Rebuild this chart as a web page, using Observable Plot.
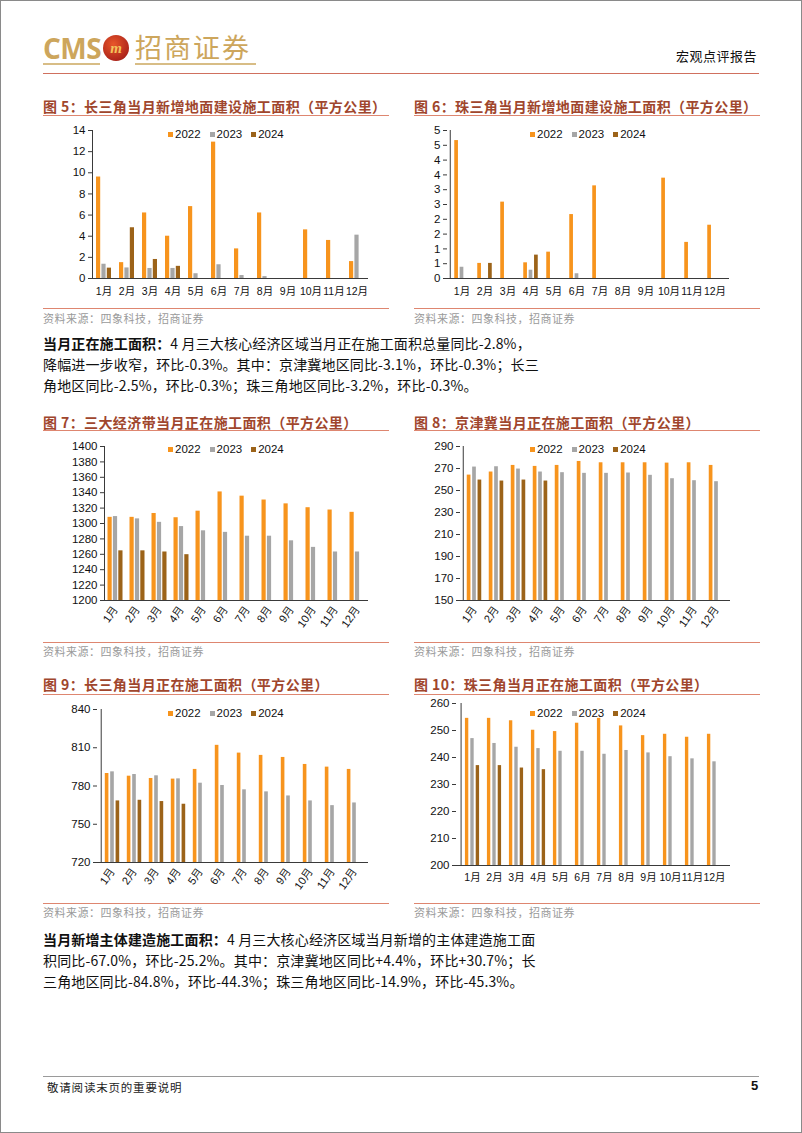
<!DOCTYPE html>
<html><head><meta charset="utf-8">
<script src="https://cdn.jsdelivr.net/npm/d3@7"></script>
<script src="https://cdn.jsdelivr.net/npm/@observablehq/plot@0.6"></script>
<style>
body{margin:0;background:#fff;}
#page{position:relative;width:802px;height:1133px;overflow:hidden;font-family:"Noto Sans CJK SC",sans-serif;box-sizing:border-box;border:1px solid #8a8a8a;}
.abs{position:absolute;}
.ftitle{position:absolute;font-size:14px;line-height:20px;font-weight:bold;color:#A0462D;white-space:nowrap;letter-spacing:0.4px;}
.rule{position:absolute;height:1px;background:#DE8670;}
.src{position:absolute;font-size:11px;line-height:16px;color:#9a9a9a;white-space:nowrap;letter-spacing:0.5px;}
.para{position:absolute;left:42px;font-size:14px;line-height:20px;color:#111;white-space:nowrap;letter-spacing:0.15px;}
.para b{font-weight:bold;}
.legend{position:absolute;display:flex;align-items:center;font-family:"Liberation Sans",Arial,sans-serif;font-size:11.5px;line-height:14px;color:#111;}
.legend span.sw{display:inline-block;width:5px;height:5px;margin-right:2px;}
.legend span.it{display:inline-flex;align-items:center;margin-right:9px;}
.chart{position:absolute;}
</style>
</head><body>
<div id="page"></div>
<script>
// ---------------- data ----------------
const months = ["1月","2月","3月","4月","5月","6月","7月","8月","9月","10月","11月","12月"];
const years = ["2022","2023","2024"];
const colors = ["#F7941D","#A6A6A6","#9C6319"];

// 图5 长三角当月新增地面建设施工面积
const yrdNew2022 = [9.6, 1.5, 6.2, 4.0, 6.8, 12.9, 2.8, 6.2, null, 4.6, 3.6, 1.6];
const yrdNew2023 = [1.35, 1.0, 0.95, 0.95, 0.45, 1.3, 0.28, 0.18, null, null, null, 4.1];
const yrdNew2024 = [0.98, 4.8, 1.8, 1.15, null, null, null, null, null, null, null, null];
const yrdNewTicks = [0, 2, 4, 6, 8, 10, 12, 14];

// 图6 珠三角当月新增地面建设施工面积
const prdNew2022 = [4.66, 0.51, 2.58, 0.53, 0.89, 2.16, 3.13, null, null, 3.39, 1.22, 1.80];
const prdNew2023 = [0.38, null, null, 0.28, null, 0.16, null, null, null, null, null, null];
const prdNew2024 = [null, 0.51, null, 0.79, null, null, null, null, null, null, null, null];
const prdNewTicks = [0, 0.5, 1, 1.5, 2, 2.5, 3, 3.5, 4, 4.5, 5];
const prdNewTickLabels = ["0","1","1","2","2","3","3","4","4","5","5"];

// 图7 三大经济带当月正在施工面积
const allCur2022 = [1308, 1308, 1313, 1307.5, 1316, 1341, 1335.5, 1330.5, 1325.5, 1320.5, 1317.5, 1314.5];
const allCur2023 = [1309, 1306, 1301.5, 1296, 1290.5, 1288.5, 1283.5, 1283.5, 1277.5, 1269, 1263, 1263];
const allCur2024 = [1264.5, 1264.5, 1263, 1259.5, null, null, null, null, null, null, null, null];
const allCurTicks = [1200, 1220, 1240, 1260, 1280, 1300, 1320, 1340, 1360, 1380, 1400];

// 图8 京津冀当月正在施工面积
const jjjCur2022 = [264, 266.8, 272.8, 271.9, 272.8, 276.4, 275.2, 275.2, 275.2, 274.9, 275.2, 272.8];
const jjjCur2023 = [271.3, 271.6, 269.5, 266.8, 266.2, 265.6, 265.6, 265.9, 263.8, 260.7, 258.9, 258];
const jjjCur2024 = [259.5, 258.6, 259.5, 258.6, null, null, null, null, null, null, null, null];
const jjjCurTicks = [150, 170, 190, 210, 230, 250, 270, 290];

// 图9 长三角当月正在施工面积
const yrdCur2022 = [789.8, 787.7, 785.9, 785.4, 793, 811.9, 805.8, 804, 802.4, 796.9, 794.8, 793];
const yrdCur2023 = [791.1, 789, 788, 785.6, 782.2, 780.4, 777, 775.4, 772.2, 768.3, 764.6, 766.7];
const yrdCur2024 = [768.3, 768.8, 767.8, 765.7, null, null, null, null, null, null, null, null];
const yrdCurTicks = [720, 750, 780, 810, 840];

// 图10 珠三角当月正在施工面积
const prdCur2022 = [254.5, 254.5, 253.6, 250.1, 249.6, 252.7, 254.5, 251.7, 248.1, 248.6, 247.5, 248.6];
const prdCur2023 = [247, 245.2, 243.8, 243.3, 242.3, 242.3, 241.2, 242.6, 241.7, 240.3, 239.5, 238.4];
const prdCur2024 = [237, 237, 236.1, 235.5, null, null, null, null, null, null, null, null];
const prdCurTicks = [200, 210, 220, 230, 240, 250, 260];

// ---------------- layout helpers ----------------
const page = document.getElementById("page");
function add(html){ page.insertAdjacentHTML("beforeend", html); }
const axisColor = "#3a3a3a";

function makeChart(o){
  const series = o.series;
  const rows = [];
  series.forEach((vals, i) => vals.forEach((v, j) => {
    if (v != null && v > 0) rows.push({month: months[j], year: years[i], value: v, s: i});
  }));
  const bw = (o.width - o.mL - o.mR) / months.length;
  const barW = o.barW ?? 4.2, gap = o.gap ?? 1.2;
  const off = (bw - (3 * barW + 2 * gap)) / 2;
  const y0 = o.yTicks[0], y1 = o.yTicks[o.yTicks.length - 1];
  const marks = [];
  years.forEach((yr, i) => {
    const il = off + i * (barW + gap);
    marks.push(Plot.barY(rows.filter(d => d.s === i), {
      x: "month", y1: y0, y2: "value", fill: colors[i],
      insetLeft: il, insetRight: bw - il - barW
    }));
  });
  marks.push(Plot.ruleY([y0], {stroke: axisColor, strokeWidth: 1}));
  marks.push(Plot.ruleX([months[0]], {x: d => d, dx: -bw / 2, stroke: axisColor, strokeWidth: 1}));
  const fmt = o.yLabels ? (d => o.yLabels[o.yTicks.indexOf(d)]) : (d => String(d));
  marks.push(Plot.axisY({ticks: o.yTicks, tickFormat: fmt, tickSize: 4, tickPadding: 3, label: null, stroke: axisColor, fontSize: 11.5}));
  marks.push(Plot.axisX({tickSize: 0, tickPadding: o.rotate ? 7 : o.xPad, tickRotate: o.rotate || 0, label: null, fontSize: o.rotate ? 11 : 10.5}));
  const svg = Plot.plot({
    width: o.width, height: o.height,
    marginLeft: o.mL, marginRight: o.mR, marginTop: o.mT, marginBottom: o.mB,
    x: {type: "band", domain: months, padding: 0},
    y: {domain: [y0, y1]},
    style: {fontFamily: '"Liberation Sans", Arial, "Noto Sans CJK SC", sans-serif', fontSize: "11px", color: "#111", background: "transparent", overflow: "visible"},
    marks
  });
  const div = document.createElement("div");
  div.className = "chart";
  div.style.left = o.left + "px";
  div.style.top = o.top + "px";
  div.appendChild(svg);
  page.appendChild(div);
  // legend
  const items = years.map((yr, i) => `<span class="it"><span class="sw" style="background:${colors[i]}"></span>${yr}</span>`).join("");
  add(`<div class="legend" style="left:${o.legLeft}px;top:${o.legY - 7}px">${items}</div>`);
}

function figureFrame(left, titleY, lineY, srcLineY, srcY, title){
  add(`<div class="ftitle" style="left:${left}px;top:${titleY - 10}px">${title}</div>`);
  add(`<div class="rule" style="left:${left}px;top:${lineY}px;width:346px"></div>`);
  add(`<div class="rule" style="left:${left}px;top:${srcLineY}px;width:346px"></div>`);
  add(`<div class="src" style="left:${left}px;top:${srcY - 8}px">资料来源：四象科技，招商证券</div>`);
}

// ---------------- header ----------------
add(`<div class="abs" style="left:42px;top:30px;font-family:'Open Sans','Liberation Sans',sans-serif;font-weight:bold;font-size:28px;line-height:34px;color:#CDA65C;letter-spacing:-0.5px">CMS</div>`);
add(`<div class="abs" style="left:42px;top:62px;width:57px;height:2px;background:#D8BD86"></div>`);
add(`<div class="abs" style="left:102px;top:34px;width:26px;height:26px;border-radius:50%;background:radial-gradient(circle at 40% 35%,#E8572A,#B0261B 70%,#7d1a12);color:#F3C35B;font:bold italic 15px/26px 'Liberation Serif',serif;text-align:center;">m</div>`);
add(`<div class="abs" style="left:134px;top:28px;font-family:'Noto Sans CJK SC',sans-serif;font-size:27px;line-height:36px;color:#CDA65C;letter-spacing:2px">招商证券</div>`);
add(`<div class="abs" style="left:134px;top:62px;width:121px;height:2px;background:#D8BD86"></div>`);
add(`<div class="abs" style="right:44px;top:46px;font-size:13px;line-height:18px;color:#111;letter-spacing:0.5px">宏观点评报告</div>`);
add(`<div class="abs" style="left:42px;top:72px;width:716px;height:1px;background:#D0705E"></div>`);

// ---------------- figures ----------------
figureFrame(42, 105, 114, 307, 317, "图 5：长三角当月新增地面建设施工面积（平方公里）");
figureFrame(413, 105, 114, 307, 317, "图 6：珠三角当月新增地面建设施工面积（平方公里）");
figureFrame(42, 421, 429, 641, 650, "图 7：三大经济带当月正在施工面积（平方公里）");
figureFrame(413, 421, 429, 641, 650, "图 8：京津冀当月正在施工面积（平方公里）");
figureFrame(42, 683, 693, 902, 911, "图 9：长三角当月正在施工面积（平方公里）");
figureFrame(413, 683, 693, 902, 911, "图 10：珠三角当月正在施工面积（平方公里）");

makeChart({series: [yrdNew2022, yrdNew2023, yrdNew2024], yTicks: yrdNewTicks,
  left: 42, top: 118, width: 346, height: 185, mL: 49, mR: 21, mT: 11, mB: 26, xPad: 9, legLeft: 167, legY: 133});
makeChart({series: [prdNew2022, prdNew2023, prdNew2024], yTicks: prdNewTicks, yLabels: prdNewTickLabels,
  left: 413, top: 118, width: 346, height: 185, mL: 33, mR: 31, mT: 11, mB: 26, xPad: 9, legLeft: 529, legY: 133});
makeChart({series: [allCur2022, allCur2023, allCur2024], yTicks: allCurTicks,
  left: 42, top: 435, width: 346, height: 200, mL: 61, mR: 21, mT: 10, mB: 36, rotate: -55, legLeft: 167, legY: 448});
makeChart({series: [jjjCur2022, jjjCur2023, jjjCur2024], yTicks: jjjCurTicks,
  left: 413, top: 435, width: 346, height: 200, mL: 46, mR: 30, mT: 10, mB: 36, rotate: -55, legLeft: 529, legY: 448});
makeChart({series: [yrdCur2022, yrdCur2023, yrdCur2024], yTicks: yrdCurTicks,
  left: 42, top: 698, width: 346, height: 200, mL: 54, mR: 21, mT: 10, mB: 37, rotate: -55, legLeft: 167, legY: 712});
makeChart({series: [prdCur2022, prdCur2023, prdCur2024], yTicks: prdCurTicks,
  left: 413, top: 692, width: 346, height: 200, mL: 42, mR: 30, mT: 10, mB: 28, xPad: 8, legLeft: 529, legY: 712});

// ---------------- paragraphs ----------------
add(`<div class="para" style="top:332px"><b>当月正在施工面积：</b>4 月三大核心经济区域当月正在施工面积总量同比-2.8%，</div>`);
add(`<div class="para" style="top:353px">降幅进一步收窄，环比-0.3%。其中：京津冀地区同比-3.1%，环比-0.3%；长三</div>`);
add(`<div class="para" style="top:374px">角地区同比-2.5%，环比-0.3%；珠三角地区同比-3.2%，环比-0.3%。</div>`);
add(`<div class="para" style="top:928px"><b>当月新增主体建造施工面积：</b>4 月三大核心经济区域当月新增的主体建造施工面</div>`);
add(`<div class="para" style="top:949px">积同比-67.0%，环比-25.2%。其中：京津冀地区同比+4.4%，环比+30.7%；长</div>`);
add(`<div class="para" style="top:970px">三角地区同比-84.8%，环比-44.3%；珠三角地区同比-14.9%，环比-45.3%。</div>`);

// ---------------- footer ----------------
add(`<div class="abs" style="left:42px;top:1075px;width:716px;height:1px;background:#9a9a9a"></div>`);
add(`<div class="abs" style="left:46px;top:1078px;font-size:11.5px;line-height:16px;color:#222;letter-spacing:0.8px">敬请阅读末页的重要说明</div>`);
add(`<div class="abs" style="left:750px;top:1077px;font-family:'Liberation Sans',Arial,sans-serif;font-weight:bold;font-size:13px;line-height:16px;color:#111">5</div>`);
</script>
</body></html>
